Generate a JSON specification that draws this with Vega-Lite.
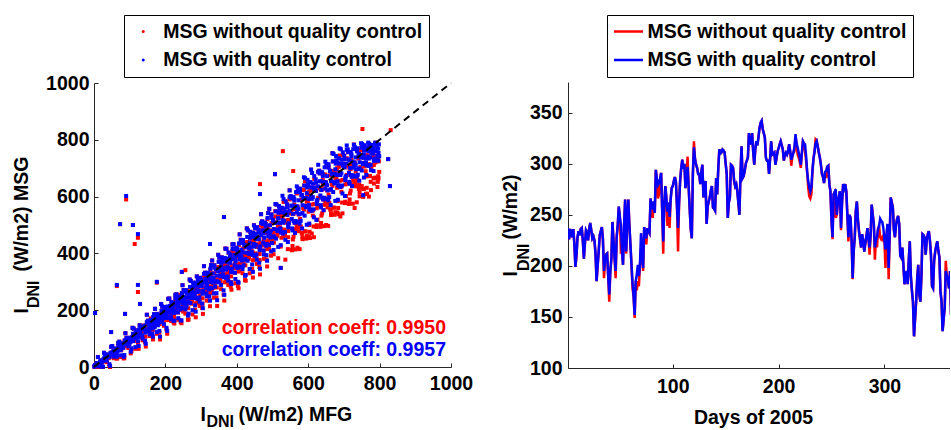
{
  "$schema": "https://vega.github.io/schema/vega-lite/v6.json",
  "background": "white",
  "padding": {"left": 11, "top": 14, "right": 0, "bottom": 0},
  "bounds": "flush",
  "spacing": 117,
  "center": true,
  "config": {
    "font": "Liberation Sans",
    "view": {"stroke": null},
    "axis": {
      "domainColor": "#262626",
      "domainWidth": 1,
      "tickColor": "#262626",
      "tickSize": -4,
      "tickWidth": 1,
      "grid": false,
      "labelFont": "Liberation Sans",
      "labelFontSize": 19.5,
      "labelFontWeight": "bold",
      "labelColor": "#000000",
      "labelFlush": false,
      "labelOverlap": false,
      "labelBound": false,
      "format": "d",
      "titleFont": "Liberation Sans",
      "titleFontSize": 19.5,
      "titleFontWeight": "bold",
      "titleColor": "#000000",
      "titleBaseline": "alphabetic",
      "titleAlign": "left"
    },
    "legend": {
      "labelLimit": 400,
      "labelFont": "Liberation Sans",
      "labelFontSize": 19.5,
      "labelFontWeight": "bold",
      "labelColor": "#000000",
      "strokeColor": "#000000",
      "fillColor": "#ffffff",
      "padding": 6.5,
      "rowPadding": 8.5,
      "clipHeight": 20
    }
  },
  "resolve": {"scale": {"color": "independent"}, "legend": {"color": "independent"}},
  "hconcat": [
    {
      "width": 357,
      "height": 284,
      "data": {"values": [
        {"x":2,"r":1,"b":1},{"x":8,"r":0,"b":6},{"x":5,"r":9,"b":5},{"x":1,"r":1,"b":3},{"x":6,"r":7,"b":9},
        {"x":14,"r":6,"b":11},{"x":10,"r":10,"b":10},{"x":17,"r":10,"b":20},{"x":19,"r":19,"b":13},{"x":13,"r":14,"b":14},
        {"x":26,"r":26,"b":26},{"x":22,"r":23,"b":18},{"x":29,"r":25,"b":33},{"x":24,"r":19,"b":22},{"x":21,"r":9,"b":23},
        {"x":33,"r":20,"b":29},{"x":37,"r":40,"b":40},{"x":30,"r":26,"b":23},{"x":35,"r":28,"b":34},{"x":38,"r":44,"b":44},
        {"x":49,"r":50,"b":50},{"x":41,"r":31,"b":38},{"x":44,"r":40,"b":36},{"x":46,"r":38,"b":50},{"x":42,"r":34,"b":36},
        {"x":55,"r":39,"b":44},{"x":58,"r":58,"b":58},{"x":53,"r":45,"b":55},{"x":50,"r":51,"b":45},{"x":57,"r":56,"b":56},
        {"x":61,"r":65,"b":65},{"x":66,"r":62,"b":57},{"x":62,"r":51,"b":59},{"x":68,"r":72,"b":75},{"x":64,"r":39,"b":53},
        {"x":77,"r":62,"b":71},{"x":73,"r":74,"b":74},{"x":79,"r":70,"b":67},{"x":72,"r":72,"b":78},{"x":75,"r":59,"b":59},
        {"x":82,"r":68,"b":68},{"x":88,"r":73,"b":80},{"x":85,"r":86,"b":82},{"x":81,"r":71,"b":83},{"x":86,"r":92,"b":94},
        {"x":94,"r":77,"b":82},{"x":90,"r":86,"b":86},{"x":97,"r":92,"b":102},{"x":99,"r":86,"b":80},{"x":93,"r":93,"b":93},
        {"x":106,"r":104,"b":104},{"x":102,"r":93,"b":88},{"x":109,"r":109,"b":117},{"x":104,"r":93,"b":96},{"x":101,"r":89,"b":103},
        {"x":113,"r":92,"b":101},{"x":117,"r":121,"b":121},{"x":110,"r":94,"b":91},{"x":115,"r":104,"b":110},{"x":118,"r":129,"b":129},
        {"x":129,"r":129,"b":129},{"x":121,"r":106,"b":113},{"x":124,"r":109,"b":105},{"x":126,"r":120,"b":132},{"x":122,"r":106,"b":108},
        {"x":135,"r":106,"b":111},{"x":138,"r":135,"b":135},{"x":133,"r":126,"b":136},{"x":130,"r":124,"b":118},{"x":137,"r":132,"b":132},
        {"x":141,"r":146,"b":146},{"x":146,"r":132,"b":127},{"x":142,"r":126,"b":134},{"x":148,"r":155,"b":158},{"x":144,"r":107,"b":121},
        {"x":157,"r":135,"b":144},{"x":153,"r":151,"b":151},{"x":159,"r":139,"b":136},{"x":152,"r":154,"b":160},{"x":155,"r":126,"b":126},
        {"x":162,"r":136,"b":136},{"x":168,"r":145,"b":152},{"x":165,"r":162,"b":158},{"x":161,"r":150,"b":162},{"x":166,"r":174,"b":176},
        {"x":174,"r":148,"b":153},{"x":170,"r":160,"b":160},{"x":177,"r":173,"b":183},{"x":179,"r":153,"b":147},{"x":173,"r":170,"b":170},
        {"x":186,"r":180,"b":180},{"x":182,"r":162,"b":157},{"x":189,"r":190,"b":198},{"x":184,"r":167,"b":170},{"x":181,"r":167,"b":181},
        {"x":193,"r":164,"b":173},{"x":197,"r":200,"b":200},{"x":190,"r":161,"b":158},{"x":195,"r":179,"b":185},{"x":198,"r":211,"b":211},
        {"x":209,"r":207,"b":207},{"x":201,"r":179,"b":186},{"x":204,"r":178,"b":174},{"x":206,"r":201,"b":213},{"x":202,"r":176,"b":178},
        {"x":215,"r":173,"b":178},{"x":218,"r":212,"b":212},{"x":213,"r":205,"b":215},{"x":210,"r":197,"b":191},{"x":217,"r":208,"b":208},
        {"x":221,"r":226,"b":226},{"x":226,"r":202,"b":197},{"x":222,"r":201,"b":209},{"x":228,"r":239,"b":242},{"x":224,"r":176,"b":190},
        {"x":237,"r":208,"b":217},{"x":233,"r":230,"b":230},{"x":239,"r":208,"b":205},{"x":232,"r":236,"b":242},{"x":235,"r":192,"b":192},
        {"x":242,"r":203,"b":203},{"x":248,"r":217,"b":224},{"x":245,"r":238,"b":234},{"x":241,"r":230,"b":242},{"x":246,"r":258,"b":260},
        {"x":254,"r":211,"b":223},{"x":250,"r":236,"b":236},{"x":257,"r":245,"b":265},{"x":259,"r":221,"b":213},{"x":253,"r":218,"b":248},
        {"x":266,"r":257,"b":257},{"x":262,"r":239,"b":227},{"x":269,"r":264,"b":282},{"x":264,"r":236,"b":244},{"x":261,"r":226,"b":261},
        {"x":273,"r":223,"b":245},{"x":277,"r":282,"b":282},{"x":270,"r":231,"b":225},{"x":275,"r":247,"b":261},{"x":278,"r":297,"b":297},
        {"x":289,"r":287,"b":287},{"x":281,"r":246,"b":261},{"x":284,"r":253,"b":243},{"x":286,"r":272,"b":297},{"x":282,"r":245,"b":250},
        {"x":295,"r":233,"b":245},{"x":298,"r":291,"b":291},{"x":293,"r":277,"b":297},{"x":290,"r":272,"b":264},{"x":297,"r":256,"b":286},
        {"x":301,"r":309,"b":309},{"x":306,"r":280,"b":268},{"x":302,"r":267,"b":285},{"x":308,"r":320,"b":328},{"x":304,"r":223,"b":258},
        {"x":317,"r":270,"b":292},{"x":313,"r":310,"b":310},{"x":319,"r":283,"b":277},{"x":312,"r":313,"b":327},{"x":315,"r":259,"b":259},
        {"x":322,"r":273,"b":273},{"x":328,"r":284,"b":299},{"x":325,"r":323,"b":313},{"x":321,"r":299,"b":324},{"x":326,"r":341,"b":346},
        {"x":334,"r":285,"b":297},{"x":330,"r":314,"b":314},{"x":337,"r":330,"b":350},{"x":339,"r":291,"b":283},{"x":333,"r":299,"b":329},
        {"x":346,"r":338,"b":338},{"x":342,"r":312,"b":300},{"x":349,"r":352,"b":370},{"x":344,"r":314,"b":322},{"x":341,"r":309,"b":344},
        {"x":353,"r":300,"b":322},{"x":357,"r":367,"b":367},{"x":350,"r":304,"b":298},{"x":355,"r":327,"b":341},{"x":358,"r":386,"b":386},
        {"x":369,"r":371,"b":371},{"x":361,"r":326,"b":341},{"x":364,"r":327,"b":317},{"x":366,"r":359,"b":384},{"x":362,"r":321,"b":326},
        {"x":375,"r":307,"b":319},{"x":378,"r":374,"b":374},{"x":373,"r":362,"b":382},{"x":370,"r":351,"b":343},{"x":377,"r":338,"b":368},
        {"x":381,"r":396,"b":396},{"x":386,"r":357,"b":345},{"x":382,"r":349,"b":367},{"x":388,"r":409,"b":417},{"x":384,"r":299,"b":334},
        {"x":397,"r":350,"b":372},{"x":393,"r":394,"b":394},{"x":399,"r":359,"b":353},{"x":392,"r":401,"b":415},{"x":395,"r":332,"b":332},
        {"x":402,"r":349,"b":349},{"x":408,"r":364,"b":379},{"x":405,"r":405,"b":395},{"x":401,"r":385,"b":410},{"x":406,"r":430,"b":435},
        {"x":414,"r":363,"b":375},{"x":410,"r":396,"b":396},{"x":417,"r":417,"b":437},{"x":419,"r":366,"b":358},{"x":413,"r":383,"b":413},
        {"x":426,"r":422,"b":422},{"x":422,"r":390,"b":378},{"x":429,"r":440,"b":458},{"x":424,"r":395,"b":403},{"x":421,"r":395,"b":430},
        {"x":433,"r":380,"b":402},{"x":437,"r":455,"b":455},{"x":430,"r":380,"b":374},{"x":435,"r":410,"b":424},{"x":438,"r":476,"b":476},
        {"x":449,"r":457,"b":457},{"x":441,"r":408,"b":423},{"x":444,"r":405,"b":395},{"x":446,"r":447,"b":472},{"x":442,"r":401,"b":406},
        {"x":455,"r":384,"b":396},{"x":458,"r":459,"b":459},{"x":453,"r":449,"b":469},{"x":450,"r":432,"b":424},{"x":457,"r":423,"b":453},
        {"x":461,"r":483,"b":483},{"x":466,"r":437,"b":425},{"x":462,"r":432,"b":450},{"x":468,"r":499,"b":507},{"x":464,"r":377,"b":412},
        {"x":477,"r":433,"b":455},{"x":473,"r":480,"b":480},{"x":479,"r":439,"b":433},{"x":472,"r":490,"b":504},{"x":475,"r":410,"b":410},
        {"x":482,"r":427,"b":427},{"x":488,"r":446,"b":461},{"x":485,"r":490,"b":480},{"x":481,"r":472,"b":497},{"x":486,"r":520,"b":525},
        {"x":494,"r":444,"b":456},{"x":490,"r":480,"b":480},{"x":497,"r":506,"b":526},{"x":499,"r":444,"b":436},{"x":493,"r":469,"b":499},
        {"x":506,"r":508,"b":508},{"x":502,"r":470,"b":458},{"x":509,"r":530,"b":548},{"x":504,"r":478,"b":486},{"x":501,"r":481,"b":516},
        {"x":513,"r":462,"b":484},{"x":517,"r":543,"b":543},{"x":510,"r":458,"b":452},{"x":515,"r":495,"b":509},{"x":518,"r":567,"b":567},
        {"x":529,"r":544,"b":544},{"x":521,"r":492,"b":507},{"x":524,"r":485,"b":475},{"x":526,"r":536,"b":561},{"x":522,"r":483,"b":488},
        {"x":535,"r":463,"b":475},{"x":538,"r":545,"b":545},{"x":533,"r":538,"b":558},{"x":530,"r":516,"b":508},{"x":537,"r":508,"b":538},
        {"x":541,"r":572,"b":572},{"x":546,"r":518,"b":506},{"x":542,"r":517,"b":535},{"x":548,"r":590,"b":598},{"x":544,"r":457,"b":492},
        {"x":557,"r":449,"b":539},{"x":553,"r":543,"b":568},{"x":559,"r":459,"b":514},{"x":552,"r":594,"b":594},{"x":555,"r":413,"b":488},
        {"x":562,"r":508,"b":508},{"x":568,"r":499,"b":544},{"x":565,"r":486,"b":566},{"x":561,"r":556,"b":586},{"x":566,"r":506,"b":616},
        {"x":574,"r":478,"b":538},{"x":570,"r":565,"b":565},{"x":577,"r":521,"b":616},{"x":579,"r":495,"b":515},{"x":573,"r":537,"b":587},
        {"x":586,"r":560,"b":595},{"x":582,"r":470,"b":540},{"x":589,"r":639,"b":639},{"x":584,"r":450,"b":570},{"x":581,"r":590,"b":605},
        {"x":593,"r":477,"b":567},{"x":597,"r":607,"b":632},{"x":590,"r":478,"b":533},{"x":595,"r":595,"b":595},{"x":598,"r":584,"b":659},
        {"x":609,"r":632,"b":632},{"x":601,"r":547,"b":592},{"x":604,"r":476,"b":556},{"x":606,"r":621,"b":651},{"x":602,"r":460,"b":570},
        {"x":615,"r":495,"b":555},{"x":618,"r":632,"b":632},{"x":613,"r":551,"b":646},{"x":610,"r":572,"b":592},{"x":617,"r":574,"b":624},
        {"x":621,"r":626,"b":661},{"x":626,"r":519,"b":589},{"x":622,"r":620,"b":620},{"x":628,"r":567,"b":687},{"x":624,"r":559,"b":574},
        {"x":637,"r":533,"b":623},{"x":633,"r":629,"b":654},{"x":639,"r":541,"b":596},{"x":632,"r":682,"b":682},{"x":635,"r":495,"b":570},
        {"x":642,"r":590,"b":590},{"x":648,"r":583,"b":628},{"x":645,"r":571,"b":651},{"x":641,"r":642,"b":672},{"x":646,"r":593,"b":703},
        {"x":654,"r":562,"b":622},{"x":650,"r":650,"b":650},{"x":657,"r":607,"b":702},{"x":659,"r":578,"b":598},{"x":653,"r":622,"b":672},
        {"x":666,"r":644,"b":679},{"x":662,"r":554,"b":624},{"x":669,"r":724,"b":724},{"x":664,"r":535,"b":655},{"x":661,"r":675,"b":690},
        {"x":673,"r":561,"b":651},{"x":677,"r":691,"b":716},{"x":670,"r":561,"b":616},{"x":675,"r":679,"b":679},{"x":678,"r":668,"b":743},
        {"x":689,"r":716,"b":716},{"x":681,"r":631,"b":676},{"x":684,"r":560,"b":640},{"x":686,"r":705,"b":735},{"x":682,"r":544,"b":654},
        {"x":695,"r":579,"b":639},{"x":698,"r":716,"b":716},{"x":693,"r":635,"b":730},{"x":690,"r":656,"b":676},{"x":697,"r":659,"b":709},
        {"x":701,"r":709,"b":744},{"x":706,"r":602,"b":672},{"x":702,"r":703,"b":703},{"x":708,"r":645,"b":765},{"x":704,"r":643,"b":658},
        {"x":717,"r":611,"b":701},{"x":713,"r":706,"b":731},{"x":719,"r":621,"b":676},{"x":712,"r":757,"b":757},{"x":715,"r":577,"b":652},
        {"x":722,"r":670,"b":670},{"x":728,"r":657,"b":702},{"x":725,"r":643,"b":723},{"x":721,"r":713,"b":743},{"x":726,"r":657,"b":767},
        {"x":734,"r":636,"b":696},{"x":730,"r":720,"b":720},{"x":737,"r":665,"b":760},{"x":739,"r":657,"b":677},{"x":733,"r":688,"b":738},
        {"x":746,"r":704,"b":739},{"x":742,"r":627,"b":697},{"x":749,"r":772,"b":772},{"x":744,"r":601,"b":721},{"x":741,"r":734,"b":749},
        {"x":753,"r":628,"b":718},{"x":757,"r":738,"b":763},{"x":750,"r":637,"b":692},{"x":755,"r":737,"b":737},{"x":758,"r":706,"b":781},
        {"x":769,"r":760,"b":760},{"x":761,"r":689,"b":734},{"x":764,"r":631,"b":711},{"x":766,"r":743,"b":773},{"x":762,"r":610,"b":720},
        {"x":775,"r":652,"b":712},{"x":778,"r":758,"b":758},{"x":773,"r":672,"b":767},{"x":770,"r":714,"b":734},{"x":777,"r":704,"b":754},
        {"x":781,"r":739,"b":774},{"x":786,"r":664,"b":734},{"x":782,"r":751,"b":751},{"x":788,"r":667,"b":787},{"x":784,"r":711,"b":726},
        {"x":797,"r":664,"b":754},{"x":793,"r":744,"b":769},{"x":799,"r":687,"b":742},{"x":792,"r":783,"b":783},{"x":795,"r":652,"b":727},
        {"x":154,"r":132,"b":136},{"x":156,"r":153,"b":153},{"x":159,"r":171,"b":166},
        {"x":161,"r":164,"b":164},{"x":165,"r":131,"b":139},{"x":168,"r":154,"b":157},
        {"x":173,"r":154,"b":158},{"x":177,"r":187,"b":187},{"x":170,"r":145,"b":140},
        {"x":182,"r":182,"b":182},{"x":184,"r":151,"b":159},{"x":188,"r":177,"b":180},
        {"x":194,"r":167,"b":171},{"x":196,"r":192,"b":192},{"x":199,"r":211,"b":206},
        {"x":201,"r":204,"b":204},{"x":205,"r":165,"b":173},{"x":208,"r":191,"b":194},
        {"x":213,"r":191,"b":195},{"x":217,"r":229,"b":229},{"x":210,"r":179,"b":174},
        {"x":222,"r":221,"b":221},{"x":224,"r":186,"b":194},{"x":228,"r":216,"b":219},
        {"x":234,"r":203,"b":207},{"x":236,"r":231,"b":231},{"x":239,"r":253,"b":248},
        {"x":241,"r":245,"b":245},{"x":245,"r":200,"b":208},{"x":248,"r":229,"b":232},
        {"x":253,"r":202,"b":232},{"x":257,"r":271,"b":271},{"x":250,"r":195,"b":207},
        {"x":262,"r":268,"b":262},{"x":264,"r":207,"b":229},{"x":268,"r":258,"b":258},
        {"x":274,"r":233,"b":243},{"x":276,"r":271,"b":271},{"x":279,"r":265,"b":290},
        {"x":281,"r":286,"b":286},{"x":285,"r":224,"b":242},{"x":288,"r":280,"b":270},
        {"x":293,"r":239,"b":269},{"x":297,"r":314,"b":314},{"x":290,"r":228,"b":240},
        {"x":302,"r":308,"b":302},{"x":304,"r":242,"b":264},{"x":308,"r":297,"b":297},
        {"x":314,"r":270,"b":280},{"x":316,"r":311,"b":311},{"x":319,"r":307,"b":332},
        {"x":321,"r":328,"b":328},{"x":325,"r":260,"b":278},{"x":328,"r":320,"b":310},
        {"x":333,"r":278,"b":308},{"x":337,"r":358,"b":358},{"x":330,"r":265,"b":277},
        {"x":342,"r":351,"b":345},{"x":344,"r":280,"b":302},{"x":348,"r":338,"b":338},
        {"x":354,"r":309,"b":319},{"x":356,"r":353,"b":353},{"x":359,"r":351,"b":376},
        {"x":361,"r":372,"b":372},{"x":365,"r":298,"b":316},{"x":368,"r":360,"b":350},
        {"x":373,"r":318,"b":348},{"x":377,"r":403,"b":403},{"x":370,"r":302,"b":314},
        {"x":382,"r":393,"b":387},{"x":384,"r":319,"b":341},{"x":388,"r":380,"b":380},
        {"x":394,"r":348,"b":358},{"x":396,"r":395,"b":395},{"x":399,"r":395,"b":420},
        {"x":401,"r":415,"b":415},{"x":405,"r":336,"b":354},{"x":408,"r":401,"b":391},
        {"x":413,"r":359,"b":389},{"x":417,"r":447,"b":447},{"x":410,"r":340,"b":352},
        {"x":422,"r":436,"b":430},{"x":424,"r":358,"b":380},{"x":428,"r":422,"b":422},
        {"x":434,"r":388,"b":398},{"x":436,"r":438,"b":438},{"x":439,"r":439,"b":464},
        {"x":441,"r":459,"b":459},{"x":445,"r":376,"b":394},{"x":448,"r":443,"b":433},
        {"x":453,"r":400,"b":430},{"x":457,"r":492,"b":492},{"x":450,"r":379,"b":391},
        {"x":462,"r":480,"b":474},{"x":464,"r":398,"b":420},{"x":468,"r":464,"b":464},
        {"x":474,"r":428,"b":438},{"x":476,"r":481,"b":481},{"x":479,"r":484,"b":509},
        {"x":481,"r":503,"b":503},{"x":485,"r":415,"b":433},{"x":488,"r":485,"b":475},
        {"x":493,"r":442,"b":472},{"x":497,"r":537,"b":537},{"x":490,"r":418,"b":430},
        {"x":502,"r":523,"b":517},{"x":504,"r":438,"b":460},{"x":508,"r":507,"b":507},
        {"x":514,"r":469,"b":479},{"x":516,"r":524,"b":524},{"x":519,"r":528,"b":553},
        {"x":521,"r":547,"b":547},{"x":525,"r":455,"b":473},{"x":528,"r":527,"b":517},
        {"x":533,"r":484,"b":514},{"x":537,"r":583,"b":583},{"x":530,"r":458,"b":470},
        {"x":542,"r":568,"b":562},{"x":544,"r":479,"b":501},{"x":548,"r":550,"b":550},
        {"x":554,"r":411,"b":521},{"x":556,"r":538,"b":568},{"x":559,"r":539,"b":599},
        {"x":561,"r":572,"b":592},{"x":565,"r":414,"b":514},{"x":568,"r":560,"b":560},
        {"x":573,"r":491,"b":556},{"x":577,"r":618,"b":628},{"x":570,"r":420,"b":510},
        {"x":582,"r":606,"b":606},{"x":584,"r":457,"b":542},{"x":588,"r":554,"b":594},
        {"x":594,"r":452,"b":562},{"x":596,"r":582,"b":612},{"x":599,"r":584,"b":644},
        {"x":601,"r":616,"b":636},{"x":605,"r":454,"b":554},{"x":608,"r":602,"b":602},
        {"x":613,"r":533,"b":598},{"x":617,"r":662,"b":672},{"x":610,"r":470,"b":550},
        {"x":622,"r":649,"b":649},{"x":624,"r":499,"b":584},{"x":628,"r":596,"b":636},
        {"x":634,"r":494,"b":604},{"x":636,"r":624,"b":654},{"x":639,"r":626,"b":686},
        {"x":641,"r":658,"b":678},{"x":645,"r":496,"b":596},{"x":648,"r":644,"b":644},
        {"x":653,"r":575,"b":640},{"x":657,"r":704,"b":714},{"x":650,"r":500,"b":592},
        {"x":662,"r":691,"b":691},{"x":664,"r":541,"b":626},{"x":668,"r":638,"b":678},
        {"x":674,"r":536,"b":646},{"x":676,"r":666,"b":696},{"x":679,"r":668,"b":728},
        {"x":681,"r":700,"b":720},{"x":685,"r":538,"b":638},{"x":688,"r":686,"b":686},
        {"x":693,"r":617,"b":682},{"x":697,"r":746,"b":756},{"x":690,"r":530,"b":634},
        {"x":702,"r":732,"b":732},{"x":704,"r":582,"b":667},{"x":708,"r":676,"b":716},
        {"x":714,"r":574,"b":684},{"x":716,"r":699,"b":729},{"x":719,"r":697,"b":757},
        {"x":721,"r":729,"b":749},{"x":725,"r":575,"b":675},{"x":728,"r":716,"b":716},
        {"x":733,"r":646,"b":711},{"x":737,"r":760,"b":770},{"x":730,"r":560,"b":672},
        {"x":742,"r":750,"b":750},{"x":744,"r":614,"b":699},{"x":748,"r":698,"b":738},
        {"x":754,"r":604,"b":714},{"x":756,"r":719,"b":749},{"x":759,"r":710,"b":770},
        {"x":761,"r":745,"b":765},{"x":765,"r":610,"b":710},{"x":768,"r":741,"b":741},
        {"x":773,"r":673,"b":738},{"x":777,"r":772,"b":782},{"x":770,"r":600,"b":708},
        {"x":782,"r":767,"b":767},{"x":784,"r":646,"b":731},{"x":788,"r":720,"b":760},
        {"x":794,"r":634,"b":744},{"x":796,"r":739,"b":769},{"x":798,"r":724,"b":784},
        {"x":3,"r":2,"b":7},{"x":8,"r":14,"b":14},{"x":5,"r":0,"b":5},
        {"x":16,"r":0,"b":2},{"x":11,"r":35,"b":35},{"x":15,"r":0,"b":8},
        {"x":23,"r":0,"b":2},{"x":28,"r":50,"b":50},{"x":25,"r":0,"b":1},
        {"x":36,"r":17,"b":23},{"x":31,"r":44,"b":44},{"x":35,"r":33,"b":43},
        {"x":43,"r":4,"b":10},{"x":48,"r":71,"b":71},{"x":45,"r":0,"b":4},
        {"x":56,"r":31,"b":37},{"x":51,"r":74,"b":74},{"x":55,"r":33,"b":43},
        {"x":63,"r":30,"b":36},{"x":68,"r":85,"b":85},{"x":65,"r":30,"b":40},
        {"x":76,"r":35,"b":41},{"x":71,"r":89,"b":89},{"x":75,"r":66,"b":76},
        {"x":83,"r":30,"b":36},{"x":88,"r":119,"b":119},{"x":85,"r":32,"b":42},
        {"x":96,"r":67,"b":73},{"x":91,"r":103,"b":103},{"x":95,"r":84,"b":94},
        {"x":103,"r":48,"b":54},{"x":108,"r":138,"b":138},{"x":105,"r":56,"b":66},
        {"x":116,"r":64,"b":70},{"x":111,"r":135,"b":135},{"x":115,"r":95,"b":105},
        {"x":123,"r":85,"b":91},{"x":128,"r":147,"b":147},{"x":125,"r":64,"b":74},
        {"x":136,"r":94,"b":100},{"x":131,"r":141,"b":141},{"x":135,"r":126,"b":136},
        {"x":143,"r":87,"b":93},{"x":148,"r":184,"b":184},{"x":145,"r":72,"b":82},
        {"x":156,"r":109,"b":115},{"x":151,"r":163,"b":163},{"x":155,"r":142,"b":152},
        {"x":163,"r":112,"b":118},{"x":168,"r":186,"b":186},{"x":165,"r":97,"b":107},
        {"x":176,"r":117,"b":123},{"x":171,"r":205,"b":205},{"x":175,"r":149,"b":159},
        {"x":183,"r":121,"b":127},{"x":188,"r":222,"b":222},{"x":185,"r":97,"b":107},
        {"x":196,"r":145,"b":151},{"x":191,"r":213,"b":213},{"x":195,"r":183,"b":193},
        {"x":203,"r":132,"b":138},{"x":208,"r":240,"b":240},{"x":205,"r":117,"b":127},
        {"x":216,"r":162,"b":168},{"x":211,"r":241,"b":241},{"x":215,"r":183,"b":193},
        {"x":223,"r":157,"b":163},{"x":228,"r":254,"b":254},{"x":225,"r":153,"b":163},
        {"x":236,"r":166,"b":172},{"x":231,"r":256,"b":256},{"x":235,"r":216,"b":226},
        {"x":243,"r":158,"b":164},{"x":248,"r":288,"b":288},{"x":245,"r":154,"b":164},
        {"x":256,"r":188,"b":203},{"x":251,"r":271,"b":271},{"x":255,"r":224,"b":244},
        {"x":263,"r":166,"b":181},{"x":268,"r":308,"b":308},{"x":265,"r":168,"b":188},
        {"x":276,"r":185,"b":200},{"x":271,"r":303,"b":303},{"x":275,"r":235,"b":255},
        {"x":283,"r":202,"b":217},{"x":288,"r":319,"b":319},{"x":285,"r":175,"b":195},
        {"x":296,"r":215,"b":230},{"x":291,"r":309,"b":309},{"x":295,"r":266,"b":286},
        {"x":303,"r":208,"b":223},{"x":308,"r":355,"b":355},{"x":305,"r":187,"b":207},
        {"x":316,"r":234,"b":249},{"x":311,"r":332,"b":332},{"x":315,"r":284,"b":304},
        {"x":323,"r":234,"b":249},{"x":328,"r":359,"b":359},{"x":325,"r":214,"b":234},
        {"x":336,"r":244,"b":259},{"x":331,"r":375,"b":375},{"x":335,"r":293,"b":313},
        {"x":343,"r":245,"b":260},{"x":348,"r":395,"b":395},{"x":345,"r":215,"b":235},
        {"x":356,"r":274,"b":289},{"x":351,"r":385,"b":385},{"x":355,"r":329,"b":349},
        {"x":363,"r":255,"b":270},{"x":368,"r":417,"b":417},{"x":365,"r":234,"b":254},
        {"x":376,"r":289,"b":304},{"x":371,"r":416,"b":416},{"x":375,"r":331,"b":351},
        {"x":383,"r":283,"b":298},{"x":388,"r":432,"b":432},{"x":385,"r":272,"b":292},
        {"x":396,"r":295,"b":310},{"x":391,"r":432,"b":432},{"x":395,"r":365,"b":385},
        {"x":403,"r":285,"b":300},{"x":408,"r":467,"b":467},{"x":405,"r":277,"b":297},
        {"x":416,"r":330,"b":345},{"x":411,"r":448,"b":448},{"x":415,"r":385,"b":405},
        {"x":423,"r":306,"b":321},{"x":428,"r":488,"b":488},{"x":425,"r":304,"b":324},
        {"x":436,"r":330,"b":345},{"x":431,"r":481,"b":481},{"x":435,"r":398,"b":418},
        {"x":443,"r":346,"b":361},{"x":448,"r":499,"b":499},{"x":445,"r":315,"b":335},
        {"x":456,"r":363,"b":378},{"x":451,"r":488,"b":488},{"x":455,"r":431,"b":451},
        {"x":463,"r":352,"b":367},{"x":468,"r":538,"b":538},{"x":465,"r":326,"b":346},
        {"x":476,"r":381,"b":396},{"x":471,"r":513,"b":513},{"x":475,"r":450,"b":470},
        {"x":483,"r":379,"b":394},{"x":488,"r":542,"b":542},{"x":485,"r":354,"b":374},
        {"x":496,"r":392,"b":407},{"x":491,"r":557,"b":557},{"x":495,"r":459,"b":479},
        {"x":503,"r":397,"b":412},{"x":508,"r":549,"b":574},
        {"x":516,"r":383,"b":423},{"x":511,"r":572,"b":572},
        {"x":523,"r":424,"b":429},{"x":528,"r":558,"b":603},
        {"x":536,"r":378,"b":448},{"x":531,"r":581,"b":591},
        {"x":543,"r":415,"b":440},{"x":548,"r":622,"b":622},
        {"x":556,"r":426,"b":481},{"x":551,"r":542,"b":602},
        {"x":563,"r":472,"b":472},{"x":568,"r":611,"b":636},
        {"x":576,"r":415,"b":505},{"x":571,"r":628,"b":628},
        {"x":583,"r":473,"b":488},{"x":588,"r":623,"b":668},
        {"x":596,"r":461,"b":501},{"x":591,"r":655,"b":665},
        {"x":603,"r":500,"b":505},{"x":608,"r":695,"b":695},
        {"x":616,"r":457,"b":527},{"x":611,"r":623,"b":683},
        {"x":623,"r":493,"b":518},{"x":628,"r":687,"b":712},
        {"x":636,"r":507,"b":562},{"x":631,"r":691,"b":691},
        {"x":643,"r":552,"b":552},{"x":648,"r":678,"b":723},
        {"x":656,"r":497,"b":587},{"x":651,"r":705,"b":715},
        {"x":663,"r":555,"b":570},{"x":668,"r":753,"b":753},
        {"x":676,"r":545,"b":585},{"x":671,"r":690,"b":750},
        {"x":683,"r":584,"b":589},{"x":688,"r":745,"b":770},
        {"x":696,"r":541,"b":611},{"x":691,"r":767,"b":767},
        {"x":703,"r":577,"b":602},{"x":708,"r":735,"b":780},
        {"x":716,"r":590,"b":645},{"x":711,"r":756,"b":766},
        {"x":723,"r":637,"b":637},{"x":728,"r":783,"b":783},
        {"x":736,"r":580,"b":670},{"x":731,"r":714,"b":774},
        {"x":743,"r":641,"b":656},{"x":748,"r":763,"b":788},
        {"x":756,"r":627,"b":667},{"x":751,"r":785,"b":785},
        {"x":763,"r":671,"b":676},{"x":768,"r":745,"b":790},
        {"x":776,"r":623,"b":693},{"x":771,"r":776,"b":786},
        {"x":783,"r":665,"b":690},{"x":788,"r":790,"b":790},
        {"x":796,"r":672,"b":727},{"x":791,"r":724,"b":784},
        {"x":90,"r":590,"b":602},{"x":73,"r":503,"b":503},{"x":109,"r":500,"b":500},{"x":123,"r":455,"b":468},{"x":114,"r":433,"b":null},
        {"x":64,"r":285,"b":289},{"x":123,"r":264,"b":289},{"x":87,"r":187,"b":187},{"x":3,"r":190,"b":190},{"x":48,"r":123,"b":123},
        {"x":129,"r":222,"b":222},{"x":364,"r":528,"b":528},{"x":246,"r":335,"b":335},{"x":256,"r":341,"b":null},{"x":325,"r":433,"b":433},
        {"x":176,"r":297,"b":300},{"x":523,"r":349,"b":349},{"x":529,"r":760,"b":null},{"x":558,"r":690,"b":null},{"x":752,"r":838,"b":null},
        {"x":831,"r":834,"b":null},{"x":824,"r":732,"b":732},{"x":829,"r":637,"b":637},{"x":754,"r":599,"b":605},{"x":507,"r":679,"b":679},
        {"x":465,"r":644,"b":609}
      ]},
      "resolve": {"axis": {"x": "independent", "y": "independent"}},
      "layer": [
        {
          "mark": {"type": "point", "shape": "square", "filled": true, "size": 16, "opacity": 1, "strokeWidth": 0},
          "encoding": {
            "x": {"field": "x", "type": "quantitative", "scale": {"domain": [0, 1000], "nice": false},
                  "axis": {"orient": "bottom", "values": [0, 200, 400, 600, 800, 1000], "labelPadding": 11, "title": null}},
            "y": {"field": "r", "type": "quantitative", "scale": {"domain": [0, 1000], "nice": false},
                  "axis": {"orient": "left", "values": [0, 200, 400, 600, 800, 1000], "labelPadding": 9, "title": null}},
            "color": {
              "datum": "MSG without quality control", "type": "nominal",
              "scale": {"domain": ["MSG without quality control", "MSG with quality control"], "range": ["#ff0000", "#0000ff"]},
              "legend": {"orient": "none", "legendX": 30, "legendY": -68, "title": null, "direction": "vertical",
                         "symbolType": "circle", "symbolSize": 9, "symbolStrokeWidth": 0, "symbolOffset": 3, "labelOffset": 10.3}
            }
          }
        },
        {
          "mark": {"type": "point", "shape": "square", "filled": true, "size": 16, "opacity": 1, "strokeWidth": 0},
          "encoding": {
            "x": {"field": "x", "type": "quantitative", "scale": {"domain": [0, 1000], "nice": false},
                  "axis": {"orient": "bottom", "domain": false, "ticks": false, "labels": false, "title": "I",
                           "titleX": 106, "titleY": 53, "titleAngle": 0}},
            "y": {"field": "b", "type": "quantitative", "scale": {"domain": [0, 1000], "nice": false},
                  "axis": {"orient": "left", "domain": false, "ticks": false, "labels": false, "title": "I",
                           "titleAngle": 270, "titleX": -67, "titleY": 230}},
            "color": {"datum": "MSG with quality control", "type": "nominal"}
          }
        },
        {
          "data": {"values": [{"x": 0, "y": 0}, {"x": 1000, "y": 1000}]},
          "mark": {"type": "line", "color": "#000000", "strokeWidth": 2, "strokeDash": [7, 5]},
          "encoding": {
            "x": {"field": "x", "type": "quantitative", "scale": {"domain": [0, 1000], "nice": false},
                  "axis": {"orient": "bottom", "domain": false, "ticks": false, "labels": false, "title": "DNI",
                           "titleFontSize": 16, "titleX": 112, "titleY": 59, "titleAngle": 0}},
            "y": {"field": "y", "type": "quantitative", "scale": {"domain": [0, 1000], "nice": false},
                  "axis": {"orient": "left", "domain": false, "ticks": false, "labels": false, "title": "DNI",
                           "titleFontSize": 16, "titleAngle": 270, "titleX": -56, "titleY": 224.5}}
          }
        },
        {
          "data": {"values": [{"x": 986, "y": 116, "t": "correlation coeff: 0.9950"}]},
          "mark": {"type": "text", "align": "right", "baseline": "alphabetic", "color": "#ff0000",
                   "font": "Liberation Sans", "fontSize": 19.5, "fontWeight": "bold"},
          "encoding": {
            "x": {"field": "x", "type": "quantitative", "scale": {"domain": [0, 1000], "nice": false},
                  "axis": {"orient": "bottom", "domain": false, "ticks": false, "labels": false, "title": "(W/m2) MFG",
                           "titleX": 144, "titleY": 53, "titleAngle": 0}},
            "y": {"field": "y", "type": "quantitative", "scale": {"domain": [0, 1000], "nice": false},
                  "axis": {"orient": "left", "domain": false, "ticks": false, "labels": false, "title": "(W/m2) MSG",
                           "titleAngle": 270, "titleX": -67, "titleY": 188}},
            "text": {"field": "t"}
          }
        },
        {
          "data": {"values": [{"x": 986, "y": 39, "t": "correlation coeff: 0.9957"}]},
          "mark": {"type": "text", "align": "right", "baseline": "alphabetic", "color": "#0000ff",
                   "font": "Liberation Sans", "fontSize": 19.5, "fontWeight": "bold"},
          "encoding": {
            "x": {"field": "x", "type": "quantitative", "scale": {"domain": [0, 1000], "nice": false}, "axis": null},
            "y": {"field": "y", "type": "quantitative", "scale": {"domain": [0, 1000], "nice": false}, "axis": null},
            "text": {"field": "t"}
          }
        }
      ]
    },
    {
      "width": 382,
      "height": 286,
      "data": {"values": [
        {"d":1,"r":237,"b":237},{"d":2,"r":226,"b":226},{"d":3,"r":236,"b":236},{"d":4,"r":233,"b":233},{"d":5,"r":228,"b":228},
        {"d":6,"r":236,"b":236},{"d":7,"r":222,"b":222},{"d":8,"r":199,"b":199},{"d":9,"r":210,"b":210},{"d":10,"r":228,"b":228},
        {"d":11,"r":234,"b":234},{"d":12,"r":230,"b":230},{"d":13,"r":236,"b":236},{"d":14,"r":237,"b":237},{"d":15,"r":225,"b":225},
        {"d":16,"r":207,"b":207},{"d":17,"r":222,"b":222},{"d":18,"r":235,"b":235},{"d":19,"r":233,"b":233},{"d":20,"r":225,"b":225},
        {"d":21,"r":236,"b":236},{"d":22,"r":242,"b":242},{"d":23,"r":235,"b":235},{"d":24,"r":227,"b":227},{"d":25,"r":229,"b":229},
        {"d":26,"r":225,"b":225},{"d":27,"r":212,"b":212},{"d":28,"r":185,"b":185},{"d":29,"r":200,"b":200},{"d":30,"r":214,"b":214},
        {"d":31,"r":230,"b":230},{"d":32,"r":234,"b":234},{"d":33,"r":238,"b":238},{"d":34,"r":226,"b":226},{"d":35,"r":188,"b":195},
        {"d":36,"r":205,"b":205},{"d":37,"r":211,"b":211},{"d":38,"r":212,"b":212},{"d":39,"r":190,"b":190},{"d":40,"r":165,"b":172},
        {"d":41,"r":195,"b":195},{"d":42,"r":207,"b":207},{"d":43,"r":243,"b":243},{"d":44,"r":225,"b":225},{"d":45,"r":208,"b":208},
        {"d":46,"r":188,"b":195},{"d":47,"r":228,"b":228},{"d":48,"r":240,"b":240},{"d":49,"r":258,"b":258},{"d":50,"r":248,"b":248},
        {"d":51,"r":214,"b":240},{"d":52,"r":215,"b":215},{"d":53,"r":201,"b":201},{"d":54,"r":240,"b":240},{"d":55,"r":265,"b":265},
        {"d":56,"r":212,"b":214},{"d":57,"r":245,"b":245},{"d":58,"r":265,"b":265},{"d":59,"r":240,"b":240},{"d":60,"r":221,"b":221},
        {"d":61,"r":201,"b":201},{"d":62,"r":178,"b":183},{"d":63,"r":170,"b":170},{"d":64,"r":149,"b":152},{"d":65,"r":185,"b":185},
        {"d":66,"r":176,"b":191},{"d":67,"r":185,"b":201},{"d":68,"r":180,"b":190},{"d":69,"r":201,"b":201},{"d":70,"r":217,"b":232},
        {"d":71,"r":212,"b":212},{"d":72,"r":195,"b":198},{"d":73,"r":238,"b":238},{"d":74,"r":230,"b":230},{"d":75,"r":221,"b":227},
        {"d":76,"r":237,"b":237},{"d":77,"r":234,"b":234},{"d":78,"r":232,"b":232},{"d":79,"r":266,"b":266},{"d":80,"r":255,"b":255},
        {"d":81,"r":247,"b":263},{"d":82,"r":258,"b":258},{"d":83,"r":252,"b":252},{"d":84,"r":294,"b":294},{"d":85,"r":285,"b":285},
        {"d":86,"r":266,"b":279},{"d":87,"r":270,"b":281},{"d":88,"r":285,"b":285},{"d":89,"r":291,"b":291},{"d":90,"r":255,"b":255},
        {"d":91,"r":212,"b":224},{"d":92,"r":260,"b":260},{"d":93,"r":278,"b":278},{"d":94,"r":266,"b":266},{"d":95,"r":239,"b":253},
        {"d":96,"r":262,"b":262},{"d":97,"r":237,"b":248},{"d":98,"r":265,"b":265},{"d":99,"r":276,"b":276},{"d":100,"r":278,"b":278},
        {"d":101,"r":283,"b":283},{"d":102,"r":287,"b":287},{"d":103,"r":282,"b":282},{"d":104,"r":258,"b":258},{"d":105,"r":214,"b":237},
        {"d":106,"r":262,"b":262},{"d":107,"r":284,"b":284},{"d":108,"r":296,"b":296},{"d":109,"r":304,"b":304},{"d":110,"r":295,"b":295},
        {"d":111,"r":300,"b":300},{"d":112,"r":276,"b":276},{"d":113,"r":285,"b":285},{"d":114,"r":307,"b":297},{"d":115,"r":278,"b":278},
        {"d":116,"r":256,"b":256},{"d":117,"r":236,"b":236},{"d":118,"r":227,"b":227},{"d":119,"r":290,"b":290},{"d":120,"r":322,"b":316},
        {"d":121,"r":305,"b":305},{"d":122,"r":299,"b":299},{"d":123,"r":296,"b":296},{"d":124,"r":290,"b":290},{"d":125,"r":290,"b":290},
        {"d":126,"r":280,"b":280},{"d":127,"r":292,"b":292},{"d":128,"r":299,"b":299},{"d":129,"r":267,"b":267},{"d":130,"r":280,"b":280},
        {"d":131,"r":283,"b":283},{"d":132,"r":241,"b":241},{"d":133,"r":258,"b":258},{"d":134,"r":263,"b":263},{"d":135,"r":267,"b":267},
        {"d":136,"r":274,"b":274},{"d":137,"r":278,"b":278},{"d":138,"r":257,"b":257},{"d":139,"r":256,"b":256},{"d":140,"r":254,"b":254},
        {"d":141,"r":286,"b":286},{"d":142,"r":270,"b":270},{"d":143,"r":295,"b":295},{"d":144,"r":314,"b":314},{"d":145,"r":310,"b":310},
        {"d":146,"r":311,"b":311},{"d":147,"r":314,"b":314},{"d":148,"r":313,"b":313},{"d":149,"r":311,"b":311},{"d":150,"r":300,"b":300},
        {"d":151,"r":290,"b":290},{"d":152,"r":247,"b":247},{"d":153,"r":262,"b":262},{"d":154,"r":267,"b":267},{"d":155,"r":299,"b":299},
        {"d":156,"r":298,"b":298},{"d":157,"r":296,"b":296},{"d":158,"r":283,"b":283},{"d":159,"r":278,"b":278},{"d":160,"r":280,"b":280},
        {"d":161,"r":273,"b":273},{"d":162,"r":262,"b":262},{"d":163,"r":250,"b":250},{"d":164,"r":290,"b":290},{"d":165,"r":317,"b":317},
        {"d":166,"r":286,"b":286},{"d":167,"r":288,"b":288},{"d":168,"r":293,"b":293},{"d":169,"r":300,"b":300},{"d":170,"r":303,"b":303},
        {"d":171,"r":306,"b":306},{"d":172,"r":330,"b":330},{"d":173,"r":322,"b":322},{"d":174,"r":319,"b":319},{"d":175,"r":330,"b":330},
        {"d":176,"r":312,"b":312},{"d":177,"r":299,"b":299},{"d":178,"r":314,"b":314},{"d":179,"r":322,"b":322},{"d":180,"r":318,"b":318},
        {"d":181,"r":326,"b":326},{"d":182,"r":335,"b":335},{"d":183,"r":340,"b":340},{"d":184,"r":342,"b":342},{"d":185,"r":334,"b":334},
        {"d":186,"r":330,"b":330},{"d":187,"r":326,"b":326},{"d":188,"r":306,"b":306},{"d":189,"r":303,"b":303},{"d":190,"r":303,"b":303},
        {"d":191,"r":290,"b":290},{"d":192,"r":305,"b":305},{"d":193,"r":322,"b":322},{"d":194,"r":309,"b":309},{"d":195,"r":310,"b":310},
        {"d":196,"r":311,"b":311},{"d":197,"r":299,"b":299},{"d":198,"r":305,"b":305},{"d":199,"r":312,"b":312},{"d":200,"r":315,"b":315},
        {"d":201,"r":319,"b":319},{"d":202,"r":322,"b":322},{"d":203,"r":318,"b":318},{"d":204,"r":314,"b":314},{"d":205,"r":303,"b":303},
        {"d":206,"r":309,"b":309},{"d":207,"r":311,"b":311},{"d":208,"r":309,"b":309},{"d":209,"r":312,"b":312},{"d":210,"r":319,"b":319},
        {"d":211,"r":312,"b":312},{"d":212,"r":298,"b":304},{"d":213,"r":307,"b":307},{"d":214,"r":311,"b":311},{"d":215,"r":312,"b":316},
        {"d":216,"r":326,"b":329},{"d":217,"r":320,"b":320},{"d":218,"r":309,"b":316},{"d":219,"r":306,"b":311},{"d":220,"r":302,"b":306},
        {"d":221,"r":296,"b":299},{"d":222,"r":310,"b":310},{"d":223,"r":322,"b":322},{"d":224,"r":320,"b":320},{"d":225,"r":312,"b":319},
        {"d":226,"r":303,"b":308},{"d":227,"r":292,"b":292},{"d":228,"r":277,"b":283},{"d":229,"r":268,"b":277},{"d":230,"r":266,"b":273},
        {"d":231,"r":270,"b":277},{"d":232,"r":293,"b":293},{"d":233,"r":305,"b":305},{"d":234,"r":312,"b":312},{"d":235,"r":324,"b":320},
        {"d":236,"r":323,"b":322},{"d":237,"r":317,"b":317},{"d":238,"r":311,"b":311},{"d":239,"r":306,"b":306},{"d":240,"r":299,"b":299},
        {"d":241,"r":290,"b":290},{"d":242,"r":287,"b":287},{"d":243,"r":281,"b":281},{"d":244,"r":292,"b":292},{"d":245,"r":286,"b":293},
        {"d":246,"r":297,"b":297},{"d":247,"r":298,"b":298},{"d":248,"r":280,"b":280},{"d":249,"r":273,"b":273},{"d":250,"r":245,"b":245},
        {"d":251,"r":226,"b":228},{"d":252,"r":270,"b":270},{"d":253,"r":272,"b":272},{"d":254,"r":247,"b":275},{"d":255,"r":250,"b":250},
        {"d":256,"r":262,"b":262},{"d":257,"r":268,"b":268},{"d":258,"r":273,"b":273},{"d":259,"r":235,"b":237},{"d":260,"r":262,"b":262},
        {"d":261,"r":280,"b":280},{"d":262,"r":276,"b":276},{"d":263,"r":280,"b":280},{"d":264,"r":273,"b":273},{"d":265,"r":250,"b":250},
        {"d":266,"r":224,"b":228},{"d":267,"r":250,"b":250},{"d":268,"r":247,"b":247},{"d":269,"r":225,"b":225},{"d":270,"r":187,"b":188},
        {"d":271,"r":215,"b":215},{"d":272,"r":228,"b":228},{"d":273,"r":254,"b":254},{"d":274,"r":263,"b":263},{"d":275,"r":245,"b":245},
        {"d":276,"r":234,"b":234},{"d":277,"r":226,"b":226},{"d":278,"r":218,"b":218},{"d":279,"r":231,"b":231},{"d":280,"r":225,"b":225},
        {"d":281,"r":214,"b":214},{"d":282,"r":222,"b":222},{"d":283,"r":229,"b":229},{"d":284,"r":237,"b":237},{"d":285,"r":226,"b":226},
        {"d":286,"r":211,"b":218},{"d":287,"r":230,"b":230},{"d":288,"r":260,"b":260},{"d":289,"r":250,"b":250},{"d":290,"r":241,"b":241},
        {"d":291,"r":206,"b":218},{"d":292,"r":225,"b":225},{"d":293,"r":218,"b":228},{"d":294,"r":236,"b":236},{"d":295,"r":239,"b":239},
        {"d":296,"r":228,"b":246},{"d":297,"r":226,"b":244},{"d":298,"r":228,"b":243},{"d":299,"r":225,"b":237},{"d":300,"r":226,"b":226},
        {"d":301,"r":198,"b":216},{"d":302,"r":230,"b":230},{"d":303,"r":241,"b":241},{"d":304,"r":187,"b":198},{"d":305,"r":230,"b":230},
        {"d":306,"r":267,"b":267},{"d":307,"r":262,"b":262},{"d":308,"r":257,"b":257},{"d":309,"r":235,"b":235},{"d":310,"r":228,"b":228},
        {"d":311,"r":240,"b":240},{"d":312,"r":246,"b":246},{"d":313,"r":249,"b":249},{"d":314,"r":241,"b":241},{"d":315,"r":210,"b":210},
        {"d":316,"r":208,"b":208},{"d":317,"r":218,"b":218},{"d":318,"r":200,"b":200},{"d":319,"r":182,"b":182},{"d":320,"r":190,"b":190},
        {"d":321,"r":195,"b":195},{"d":322,"r":182,"b":182},{"d":323,"r":205,"b":205},{"d":324,"r":224,"b":224},{"d":325,"r":190,"b":190},
        {"d":326,"r":176,"b":176},{"d":327,"r":165,"b":165},{"d":328,"r":131,"b":131},{"d":329,"r":148,"b":148},{"d":330,"r":165,"b":165},
        {"d":331,"r":187,"b":187},{"d":332,"r":201,"b":201},{"d":333,"r":172,"b":172},{"d":334,"r":165,"b":165},{"d":335,"r":190,"b":190},
        {"d":336,"r":231,"b":231},{"d":337,"r":230,"b":230},{"d":338,"r":228,"b":228},{"d":339,"r":211,"b":211},{"d":340,"r":225,"b":225},
        {"d":341,"r":231,"b":231},{"d":342,"r":234,"b":234},{"d":343,"r":225,"b":225},{"d":344,"r":211,"b":211},{"d":345,"r":180,"b":180},
        {"d":346,"r":178,"b":178},{"d":347,"r":205,"b":205},{"d":348,"r":214,"b":214},{"d":349,"r":220,"b":220},{"d":350,"r":224,"b":224},
        {"d":351,"r":215,"b":215},{"d":352,"r":208,"b":208},{"d":353,"r":175,"b":175},{"d":354,"r":165,"b":165},{"d":355,"r":136,"b":136},
        {"d":356,"r":148,"b":148},{"d":357,"r":159,"b":159},{"d":358,"r":205,"b":195},{"d":359,"r":190,"b":190},{"d":360,"r":188,"b":188},
        {"d":361,"r":178,"b":178},{"d":362,"r":195,"b":195},{"d":363,"r":152,"b":152},{"d":364,"r":175,"b":175},{"d":365,"r":180,"b":180}
      ]},
      "resolve": {"axis": {"x": "independent", "y": "independent"}},
      "layer": [
        {
          "mark": {"type": "line", "strokeWidth": 2.5, "clip": true},
          "encoding": {
            "x": {"field": "d", "type": "quantitative", "scale": {"domain": [1, 362], "nice": false},
                  "axis": {"orient": "bottom", "values": [100, 200, 300], "labelPadding": 13, "title": "Days of 2005",
                           "titleX": 185, "titleY": 55, "titleAlign": "center", "titleAngle": 0}},
            "y": {"field": "r", "type": "quantitative", "scale": {"domain": [100, 380], "nice": false},
                  "axis": {"orient": "left", "values": [100, 150, 200, 250, 300, 350], "labelPadding": 10, "title": "(W/m2)",
                           "titleAngle": 270, "titleX": -52, "titleY": 157}},
            "color": {
              "datum": "MSG without quality control", "type": "nominal",
              "scale": {"domain": ["MSG without quality control", "MSG with quality control"], "range": ["#ff0000", "#0000ff"]},
              "legend": {"orient": "none", "legendX": 39, "legendY": -67, "title": null, "direction": "vertical",
                         "symbolType": "stroke", "symbolSize": 841, "symbolStrokeWidth": 2.5, "symbolOffset": -1, "labelOffset": 3}
            }
          }
        },
        {
          "mark": {"type": "line", "strokeWidth": 2.5, "clip": true},
          "encoding": {
            "x": {"field": "d", "type": "quantitative", "scale": {"domain": [1, 362], "nice": false},
                  "axis": {"orient": "bottom", "domain": false, "ticks": false, "labels": false, "title": "DNI",
                           "titleFontSize": 16, "titleAngle": 270, "titleX": -40, "titleY": -97.5}},
            "y": {"field": "b", "type": "quantitative", "scale": {"domain": [100, 380], "nice": false},
                  "axis": {"orient": "left", "domain": false, "ticks": false, "labels": false, "title": "I",
                           "titleAngle": 270, "titleX": -52, "titleY": 194}},
            "color": {"datum": "MSG with quality control", "type": "nominal"}
          }
        }
      ]
    }
  ]
}
